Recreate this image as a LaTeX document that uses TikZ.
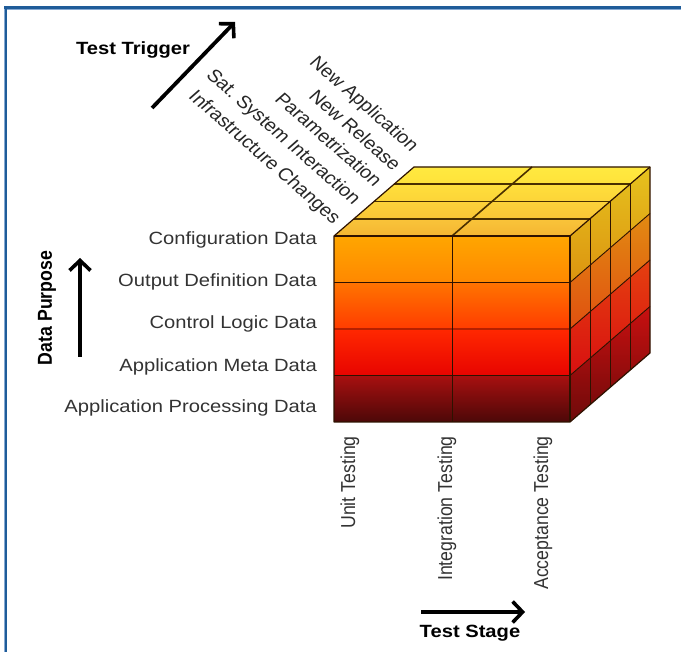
\documentclass[tikz,border=0pt]{standalone}
\usepackage{fontspec}
\setmainfont{Liberation Sans}
\usetikzlibrary{arrows.meta}
\definecolor{framedark}{HTML}{1F5C99}
\definecolor{framelight}{HTML}{86A9D2}
\definecolor{labelgray}{HTML}{333333}
\definecolor{edge}{HTML}{2E1200}
\definecolor{topedge}{HTML}{4A3000}

\begin{document}
\begin{tikzpicture}[x=0.877193pt, y=-1pt, xscale=1.14,
  lbl/.style={font=\fontsize{17.7}{20}\selectfont, text=labelgray, inner sep=0pt, transform shape},
  axislbl/.style={font=\bfseries\fontsize{17.7}{20}\selectfont, text=black, inner sep=0pt, transform shape},
  axisarrow/.style={line width=3.8pt, -{Straight Barb[length=10pt,width=21pt,line width=3.6pt]}},
  gridline/.style={draw=edge, line width=0.9pt},
  topline/.style={draw=topedge, line width=1.6pt},
]
\useasboundingbox (0,0) rectangle (681,652);

% frame (top and left rules)
\draw[framedark, line width=3pt] (5.5,652) -- (5.5,7.5) -- (681,7.5);
\draw[framelight, line width=0.8pt] (4.2,652) -- (4.2,9.3);
\draw[framelight, line width=0.8pt] (7,9.4) -- (681,9.4);

% ---------- cube ----------
% front face: x 334..570, y 236..422, depth vector (80,-69)
\def\dx{80}\def\dy{-69}
% front rows
\foreach \i/\ct/\cb in {0/FFA600/FF8800, 1/FF7400/FF3C00, 2/FF2800/E80400, 3/A81010/4C0808}{
  \definecolor{ctop}{HTML}{\ct}\definecolor{cbot}{HTML}{\cb}
  \shade[top color=ctop, bottom color=cbot]
    (334,{236+46.5*\i}) rectangle (570,{236+46.5*(\i+1)});
}
% top face rows, from back (k=0) to front (k=3)
\foreach \k/\ct/\cb in {0/FFE940/FFE23A, 1/FFDF3C/FCD438, 2/FCD23A/F9C636, 3/F9C43A/F4B632}{
  \definecolor{ctop}{HTML}{\ct}\definecolor{cbot}{HTML}{\cb}
  \pgfmathsetmacro\ta{(4-\k)/4}
  \pgfmathsetmacro\tb{(3-\k)/4}
  \shade[top color=ctop, bottom color=cbot]
    ({334+\dx*\ta},{236+\dy*\ta}) -- ({570+\dx*\ta},{236+\dy*\ta})
    -- ({570+\dx*\tb},{236+\dy*\tb}) -- ({334+\dx*\tb},{236+\dy*\tb}) -- cycle;
}
% right face rows
\foreach \i/\ct/\cb in {0/E6C21E/DC9410, 1/E28A12/E05010, 2/E54010/D81010, 3/C81010/6E0A0A}{
  \definecolor{ctop}{HTML}{\ct}\definecolor{cbot}{HTML}{\cb}
  \pgfmathsetmacro\ya{236+46.5*\i}
  \pgfmathsetmacro\yb{236+46.5*(\i+1)}
  \shade[top color=ctop, bottom color=cbot]
    (570,\ya) -- ({570+\dx},{\ya+\dy}) -- ({570+\dx},{\yb+\dy}) -- (570,\yb) -- cycle;
}
% grid lines on the front face
\foreach \i in {1,2,3}{
  \draw[gridline] (334,{236+46.5*\i}) -- (570,{236+46.5*\i})
                  -- ({570+\dx},{236+46.5*\i+\dy});
}
\draw[gridline] (452,236) -- (452,422);
% depth divisions on the right face
\foreach \t in {0.25,0.5,0.75}{
  \draw[gridline] ({570+\dx*\t},{236+\dy*\t}) -- ({570+\dx*\t},{422+\dy*\t});
}
% depth divisions on the top face
\foreach \t in {0.25,0.5,0.75}{
  \draw[topline] ({334+\dx*\t},{236+\dy*\t}) -- ({570+\dx*\t},{236+\dy*\t});
}
\draw[topline] (452,236) -- ({452+\dx},{236+\dy});
% outline
\draw[draw=edge, line width=1.2pt, line join=round]
  (334,422) -- (334,236) -- ({334+\dx},{236+\dy}) -- ({570+\dx},{236+\dy})
  -- ({570+\dx},{422+\dy}) -- (570,422) -- cycle;
\draw[draw=edge, line width=1.2pt] (334,236) -- (570,236) -- (570,422);
\draw[draw=edge, line width=1.2pt] (570,236) -- ({570+\dx},{236+\dy});

% ---------- labels: data purpose ----------
\node[lbl, anchor=east] (cfg) at (317,240) {Configuration Data};
\node[lbl, anchor=east] (out) at (317,282) {Output Definition Data};
\node[lbl, anchor=east] (ctl) at (317,324) {Control Logic Data};
\node[lbl, anchor=east] (meta) at (317,367) {Application Meta Data};
\node[lbl, anchor=east] (proc) at (317,408) {Application Processing Data};

% ---------- labels: test trigger ----------
\node[lbl, text=black!85, rotate=-45, anchor=base east] (trA) at (411,153) {New Application};
\node[lbl, text=black!85, rotate=-45, anchor=base east] (trB) at (393,172) {New Release};
\node[lbl, text=black!85, rotate=-45, anchor=base east] (trC) at (374,188) {Parametrization};
\node[lbl, text=black!85, rotate=-45, anchor=base east] (trD) at (353,206) {Sat.\ System Interaction};
\node[lbl, text=black!85, rotate=-45, anchor=base east] (trE) at (333,225) {Infrastructure Changes};

% ---------- labels: test stage ----------
\node[lbl, rotate=90, anchor=east] (unit) at (350,436) {Unit Testing};
\node[lbl, rotate=90, anchor=east] (integ) at (447,436) {Integration Testing};
\node[lbl, rotate=90, anchor=east] (accept) at (543,436) {Acceptance Testing};

% ---------- axis titles and arrows ----------
\node[axislbl] (trigger) at (133,50) {Test Trigger};
\coordinate (trigS) at (152,108);
\coordinate (trigE) at (235,22);
\draw[axisarrow] (trigS) -- (trigE);

\node[axislbl, rotate=90] (purpose) at (47,308) {Data Purpose};
\coordinate (purpS) at (80,357);
\coordinate (purpE) at (80,258);
\draw[axisarrow] (purpS) -- (purpE);

\node[axislbl] (stage) at (470,633) {Test Stage};
\coordinate (stageS) at (421,612);
\coordinate (stageE) at (525,612);
\draw[axisarrow] (stageS) -- (stageE);
\end{tikzpicture}
\end{document}
